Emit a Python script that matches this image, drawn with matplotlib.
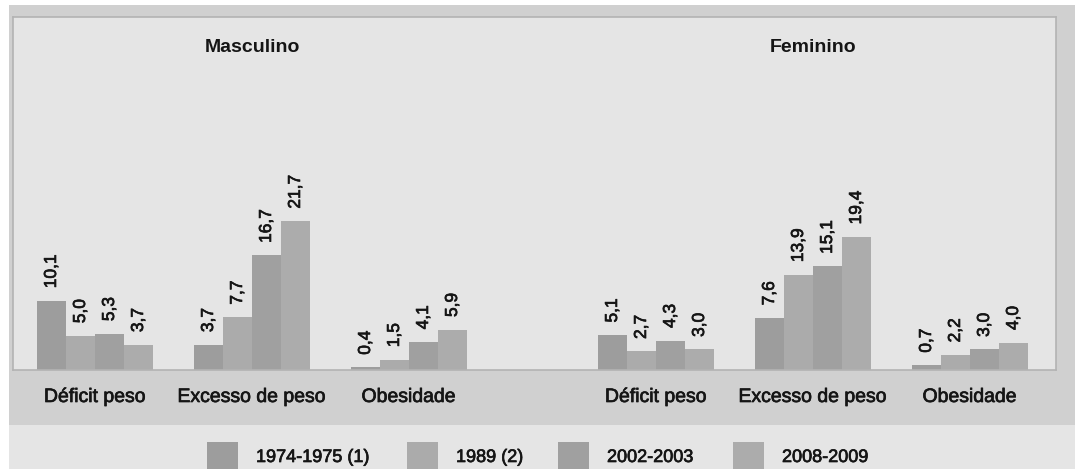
import matplotlib
matplotlib.use('Agg')
import matplotlib.pyplot as plt
import matplotlib.patheffects as pe
from matplotlib.patches import Rectangle

# Prevalência por sexo e período (%)
categorias = ['Déficit peso', 'Excesso de peso', 'Obesidade']
periodos = ['1974-1975 (1)', '1989 (2)', '2002-2003', '2008-2009']
sexos = ['Masculino', 'Feminino']

masc_1974 = [10.1, 3.7, 0.4]
masc_1989 = [5.0, 7.7, 1.5]
masc_2002 = [5.3, 16.7, 4.1]
masc_2008 = [3.7, 21.7, 5.9]

fem_1974 = [5.1, 7.6, 0.7]
fem_1989 = [2.7, 13.9, 2.2]
fem_2002 = [4.3, 15.1, 3.0]
fem_2008 = [3.0, 19.4, 4.0]

series = {
    'Masculino': [masc_1974, masc_1989, masc_2002, masc_2008],
    'Feminino': [fem_1974, fem_1989, fem_2002, fem_2008],
}

cores = ['#9d9d9d', '#ababab', '#a0a0a0', '#acacac']
cor_texto = '#151515'
# traço fino para engrossar um pouco as letras
grosso = [pe.withStroke(linewidth=0.5, foreground=cor_texto)]

plt.rcParams['font.family'] = ['Liberation Sans', 'DejaVu Sans']

W, H = 1075, 469
fig = plt.figure(figsize=(W / 100, H / 100), dpi=100, facecolor='white')


def fx(px):
    return px / W


def fy(py):
    return 1 - py / H


def faixa(x0, y0, x1, y1, cor, z=-10):
    # retângulo em pixels (origem no canto superior esquerdo)
    fig.patches.append(Rectangle((fx(x0), fy(y1)), fx(x1) - fx(x0), fy(y0) - fy(y1),
                                 transform=fig.transFigure, facecolor=cor,
                                 edgecolor='none', zorder=z))


# moldura cinza e faixa da legenda
faixa(9, 5, W, 425, '#d0d0d0')
faixa(9, 425, W, H, '#e5e5e5')

# painel do gráfico
px0, py0, px1, py1 = 13, 17, 1056, 370
ax = fig.add_axes([fx(px0), fy(py1), fx(px1) - fx(px0), fy(py0) - fy(py1)])
ax.set_facecolor('#e5e5e5')
for s in ax.spines.values():
    s.set_color('#b3b3b3')
    s.set_linewidth(1.2)

largura = 29        # largura de cada barra
passo_grupo = 157   # distância entre categorias
passo_sexo = 561    # deslocamento do bloco feminino
inicio = 24

for k, sexo in enumerate(sexos):
    for j, valores in enumerate(series[sexo]):
        xs = [inicio + k * passo_sexo + i * passo_grupo + j * largura + largura / 2
              for i in range(len(categorias))]
        ax.bar(xs, valores, width=largura, color=cores[j], edgecolor='none', zorder=2)
        for x, v in zip(xs, valores):
            ax.annotate(f'{v:.1f}'.replace('.', ','), xy=(x, v), xytext=(0, 9),
                        textcoords='offset points', rotation=90, ha='center',
                        va='bottom', fontsize=12.5, color=cor_texto, path_effects=grosso)
    # rótulos das categorias
    for i, cat in enumerate(categorias):
        cx = inicio + k * passo_sexo + i * passo_grupo + 2 * largura
        ax.text(cx, -32 / (py1 - py0), cat, transform=ax.get_xaxis_transform(),
                ha='center', va='baseline', fontsize=14, color=cor_texto,
                path_effects=grosso)
    centro = inicio + k * passo_sexo + passo_grupo + 2 * largura
    ax.text(centro, (py1 - 52) / (py1 - py0), sexo, transform=ax.get_xaxis_transform(),
            ha='center', va='baseline', fontsize=14, fontweight='bold', color=cor_texto)

ax.set_xlim(0, px1 - px0)
ax.set_ylim(0, (py1 - py0) / 6.86)
ax.set_xticks([])
ax.set_yticks([])

# legenda
leg_x = [207, 407, 558, 733]
for x, rot, cor in zip(leg_x, periodos, cores):
    faixa(x, 442, x + 31, H, cor, z=1)
    fig.text(fx(x + 49), fy(462), rot, ha='left', va='baseline', fontsize=13,
             color=cor_texto, path_effects=grosso)

fig.savefig('out.png', dpi=100, facecolor='white')
